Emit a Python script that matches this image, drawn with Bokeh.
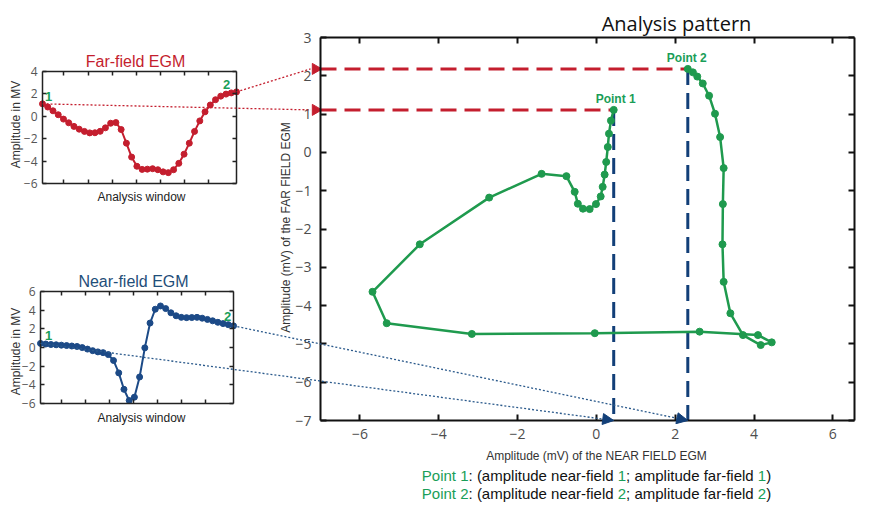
import math
from bokeh.plotting import figure
from bokeh.models import (Range1d, LinearAxis, FixedTicker, Label, Arrow, NormalHead,
                          CustomJSTickFormatter)
from bokeh.embed import file_html
from bokeh.resources import INLINE

# ---------------- data ----------------
sample_index = list(range(38))
near_field = [0.44, 0.37, 0.32, 0.29, 0.25, 0.21, 0.16, 0.11, -0.01, -0.17,
              -0.34, -0.47, -0.55, -0.76, -1.39, -2.72, -4.48, -5.68, -5.32, -3.16,
              -0.04, 2.62, 4.10, 4.45, 4.17, 3.72, 3.40, 3.23, 3.20, 3.21,
              3.23, 3.14, 3.01, 2.86, 2.70, 2.56, 2.45, 2.32]
far_field = [1.11, 0.83, 0.49, 0.14, -0.25, -0.58, -0.90, -1.15, -1.35, -1.48,
             -1.47, -1.34, -1.03, -0.62, -0.56, -1.18, -2.40, -3.64, -4.46, -4.74,
             -4.72, -4.68, -4.77, -4.96, -5.03, -4.77, -4.20, -3.38, -2.40, -1.35,
             -0.41, 0.40, 1.01, 1.48, 1.80, 1.98, 2.09, 2.18]
main_x_ticks = [-6, -4, -2, 0, 2, 4, 6]
main_y_ticks = [-7, -6, -5, -4, -3, -2, -1, 0, 1, 2, 3]
far_y_ticks = [-6, -4, -2, 0, 2, 4]
near_y_ticks = [-6, -4, -2, 0, 2, 4, 6]
small_x_ticks = [4.1, 8.7, 13.3, 17.9, 22.5, 27.1, 31.7]
point_names = ["Point 1", "Point 2"]
marker_names = ["1", "2"]

# ---------------- layout / style ----------------
W, H, M = 856, 504, 0
GREEN = "#1f9a4e"
GREEN_TXT = "#1a9e58"
RED = "#c41e2e"
NAVY = "#1c4a87"
DNAVY = "#123f78"

# boxes in picture px: ((x_left, x_right, d_left, d_right), (y_bottom, y_top, d_bottom, d_top))
MAIN = ((320, 854, -7.0, 6.55), (420, 37, -7.0, 3.0))
FAR = ((42, 236, 0, 37), (183, 71, -6.0, 4.0))
NEAR = ((40, 233, 0, 37), (403, 291, -6.0, 6.0))


def make_ranges(box):
    (px0, px1, dx0, dx1), (py0, py1, dy0, dy1) = box
    cx0, cx1 = px0 - M, px1 - M
    sx = (dx1 - dx0) / (cx1 - cx0)
    xr = Range1d(dx0 - cx0 * sx, dx0 + (W - cx0) * sx)
    cy0, cy1 = H - (py0 - M), H - (py1 - M)
    sy = (dy1 - dy0) / (cy1 - cy0)
    yr = Range1d(dy0 - cy0 * sy, dy0 + (H - cy0) * sy)
    return xr, yr


def to_canvas(box, x, y):
    (px0, px1, dx0, dx1), (py0, py1, dy0, dy1) = box
    pxv = px0 + (x - dx0) * (px1 - px0) / (dx1 - dx0)
    pyv = py0 + (y - dy0) * (py1 - py0) / (dy1 - dy0)
    return pxv - M, H - (pyv - M)


def page(px, py):
    return px - M, H - (py - M)


p = figure(width=W, height=H, x_range=Range1d(0, W), y_range=Range1d(0, H),
           x_axis_type=None, y_axis_type=None, toolbar_location=None,
           output_backend="svg", min_border=0, outline_line_color=None)
p.title.visible = False
p.background_fill_color = "white"

for name, box in (("main", MAIN), ("far", FAR), ("near", NEAR)):
    xr, yr = make_ranges(box)
    p.extra_x_ranges[name] = xr
    p.extra_y_ranges[name] = yr


def blank():
    return CustomJSTickFormatter(code="return ''")


def frame_axes(name, box, xticks, yticks, show_x, tick_len, lw, color,
               font, fsize, lcolor, xs, ys):
    (px0, px1, dx0, dx1), (py0, py1, dy0, dy1) = box
    common = dict(x_range_name=name, y_range_name=name, major_tick_in=tick_len,
                  major_tick_out=0, minor_tick_line_color=None, axis_line_width=lw,
                  axis_line_color=color, major_tick_line_width=lw,
                  major_tick_line_color=color, major_label_text_font=font,
                  major_label_text_font_size=fsize, major_label_text_color=lcolor)
    bottom = LinearAxis(fixed_location=dy0, bounds=(dx0, dx1),
                        ticker=FixedTicker(ticks=xticks), major_label_standoff=xs, **common)
    if not show_x:
        bottom.formatter = blank()
    top = LinearAxis(fixed_location=dy1, bounds=(dx0, dx1),
                     ticker=FixedTicker(ticks=xticks), formatter=blank(), **common)
    left = LinearAxis(fixed_location=dx0, bounds=(dy0, dy1),
                      ticker=FixedTicker(ticks=yticks), major_label_standoff=ys, **common)
    right = LinearAxis(fixed_location=dx1, bounds=(dy0, dy1),
                       ticker=FixedTicker(ticks=yticks), formatter=blank(), **common)
    p.add_layout(bottom, "below")
    p.add_layout(top, "above")
    p.add_layout(left, "left")
    p.add_layout(right, "right")


frame_axes("main", MAIN, main_x_ticks, main_y_ticks, True, 6, 2, "#111111",
           "Open Sans", "14px", "#4d4d4d", 8, 9)
frame_axes("far", FAR, small_x_ticks, far_y_ticks, False, 4, 1.5, "#222222",
           "Open Sans", "12px", "#555555", 5, 5)
frame_axes("near", NEAR, small_x_ticks, near_y_ticks, False, 4, 1.5, "#222222",
           "Open Sans", "12px", "#555555", 5, 5)

# ---------------- guide lines in main plot ----------------
ends = [0, len(sample_index) - 1]
xmin_main = MAIN[0][2]
ymin_main = MAIN[1][2]
p.segment(x0=[xmin_main] * 2, y0=[far_field[i] for i in ends],
          x1=[near_field[i] for i in ends], y1=[far_field[i] for i in ends],
          x_range_name="main", y_range_name="main",
          line_color=RED, line_width=3, line_dash="16 8")
p.segment(x0=[near_field[i] for i in ends], y0=[far_field[i] for i in ends],
          x1=[near_field[i] for i in ends], y1=[ymin_main] * 2,
          x_range_name="main", y_range_name="main",
          line_color=DNAVY, line_width=3, line_dash="16 8")

# ---------------- curves ----------------
p.line(near_field, far_field, x_range_name="main", y_range_name="main",
       line_color=GREEN, line_width=2.5)
p.scatter(near_field, far_field, x_range_name="main", y_range_name="main",
          size=7, fill_color=GREEN, line_color=GREEN)

p.line(sample_index, far_field, x_range_name="far", y_range_name="far",
       line_color=RED, line_width=2)
p.scatter(sample_index, far_field, x_range_name="far", y_range_name="far",
          size=6, fill_color=RED, line_color=RED)

p.line(sample_index, near_field, x_range_name="near", y_range_name="near",
       line_color=NAVY, line_width=2)
p.scatter(sample_index, near_field, x_range_name="near", y_range_name="near",
          size=6, fill_color=NAVY, line_color=NAVY)

# ---------------- connectors ----------------
for i in ends:
    # far-field sample -> y axis of the main plot
    sx, sy = to_canvas(FAR, sample_index[i], far_field[i])
    ax, ay = to_canvas(MAIN, xmin_main, far_field[i])
    p.add_layout(Arrow(end=None, x_start=sx, y_start=sy, x_end=ax - 10, y_end=ay,
                       line_color=RED, line_width=1.3, line_dash="2 2"))
    p.scatter([ax - 5], [ay], marker="triangle", size=11, angle=-math.pi / 2,
              fill_color=RED, line_color=RED)
    # near-field sample -> x axis of the main plot
    sx, sy = to_canvas(NEAR, sample_index[i], near_field[i])
    bx, by = to_canvas(MAIN, near_field[i], ymin_main)
    p.add_layout(Arrow(end=NormalHead(size=11, fill_color=DNAVY, line_color=DNAVY),
                       x_start=sx, y_start=sy, x_end=bx, y_end=by,
                       line_color="#2b5a8c", line_width=1.3, line_dash="2 2"))

# ---------------- point labels ----------------
for k, i in enumerate(ends):
    p.add_layout(Label(x=near_field[i], y=far_field[i], x_range_name="main",
                       y_range_name="main", text=point_names[k], x_offset=2 if k == 0 else -1,
                       y_offset=11, text_align="center", text_baseline="alphabetic",
                       text_font="Liberation Sans", text_font_style="bold",
                       text_font_size="12px", text_color=GREEN_TXT))

far_off = [(6, 7), (-10, 7)]
near_off = [(8, 8), (-6, 9)]
for k, i in enumerate(ends):
    p.add_layout(Label(x=sample_index[i], y=far_field[i], x_range_name="far",
                       y_range_name="far", text=marker_names[k],
                       x_offset=far_off[k][0], y_offset=far_off[k][1],
                       text_align="center", text_baseline="alphabetic",
                       text_font="Liberation Sans", text_font_style="bold",
                       text_font_size="13px", text_color=GREEN_TXT))
    p.add_layout(Label(x=sample_index[i], y=near_field[i], x_range_name="near",
                       y_range_name="near", text=marker_names[k],
                       x_offset=near_off[k][0], y_offset=near_off[k][1],
                       text_align="center", text_baseline="alphabetic",
                       text_font="Liberation Sans", text_font_style="bold",
                       text_font_size="13px", text_color=GREEN_TXT))


# ---------------- texts ----------------
def label(px, py, text, size, color="#222222", font="Liberation Sans", align="center",
          baseline="alphabetic", angle=0.0, style="normal"):
    x, y = page(px, py)
    p.add_layout(Label(x=x, y=y, text=text, text_font=font, text_font_size=size,
                       text_color=color, text_align=align, text_baseline=baseline,
                       angle=angle, text_font_style=style))


label(676, 23, "Analysis pattern", "20px", "#111111", font="Open Sans")
label(596, 455, "Amplitude (mV) of the NEAR FIELD EGM", "12px", "#333333", baseline="middle")
label(285, 227, "Amplitude (mV) of the FAR FIELD EGM", "12px", "#333333", baseline="middle",
      angle=math.pi / 2)

label(135, 61, "Far-field EGM", "16px", RED)
label(133, 281, "Near-field EGM", "16px", "#1f4e79")
label(141, 196, "Analysis window", "12px", "#222222", baseline="middle")
label(141, 417, "Analysis window", "12px", "#222222", baseline="middle")
label(15, 124, "Amplitude in MV", "12px", "#333333", baseline="middle", angle=math.pi / 2)
label(15, 351, "Amplitude in MV", "12px", "#333333", baseline="middle", angle=math.pi / 2)

# two coloured caption lines, built from segments
ARIAL = {' ': 278, '(': 333, ')': 333, ':': 278, ';': 278, '-': 333, '1': 556, '2': 556,
         'P': 667, 'a': 556, 'd': 556, 'e': 556, 'f': 278, 'i': 222, 'l': 222, 'm': 833,
         'n': 556, 'o': 556, 'p': 556, 'r': 333, 't': 278, 'u': 556}
FS = 15


def text_width(s):
    return sum(ARIAL.get(c, 556) for c in s) * FS / 1000.0


for k, base in enumerate([475, 493]):
    n = marker_names[k]
    segs = [(point_names[k], GREEN_TXT), (": (amplitude near-field ", "#111111"),
            (n, GREEN_TXT), ("; amplitude far-field ", "#111111"), (n, GREEN_TXT),
            (")", "#111111")]
    total = sum(text_width(s) for s, _ in segs)
    x = 596 - total / 2
    for s, c in segs:
        label(x, base, s, f"{FS}px", c, align="left")
        x += text_width(s)

open("out.html", "w").write(file_html(p, INLINE))
